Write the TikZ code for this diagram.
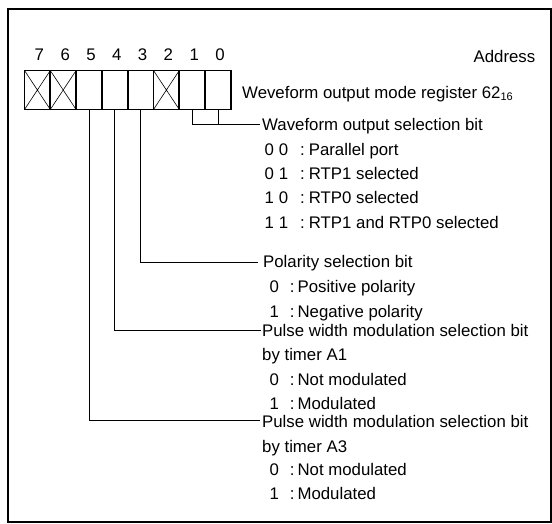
\documentclass[tikz,border=0pt]{standalone}
\usepackage{fontspec}
\setmainfont{Liberation Sans}
\usetikzlibrary{positioning,calc}
\newcommand{\twobit}[3]{\makebox[35.7pt][l]{#1\hspace{5pt}#2}:\hspace{4pt}#3}
\newcommand{\onebit}[2]{\makebox[20.4pt][l]{#1}:\hspace{3pt}#2}
\newcommand{\hexsub}[1]{\raisebox{-2.5pt}{\fontsize{11}{11}\selectfont #1}}

\begin{document}
\begin{tikzpicture}[x=1pt,y=-1pt,
  font=\fontsize{16.8}{20}\selectfont,
  cell/.style={rectangle, draw, line width=1.8pt, minimum width=25.8pt,
               minimum height=39pt, inner sep=0pt, outer sep=0pt},
  bitno/.style={anchor=base, inner sep=0pt},
  txt/.style={anchor=base west, inner sep=0pt},
  lead/.style={line width=0.8pt},
  xline/.style={line width=0.6pt},
]
\useasboundingbox (0,0) rectangle (552,523);
\draw[line width=2pt] (7.5,8.5) rectangle (551,521.5);

\foreach \b [count=\k from 0] in {7,6,5,4,3,2,1,0} {
  \node[cell] (b\b) at ({24.5+25.8*(\k+0.5)},90) {};
  \node[bitno] (n\b) at ([xshift=2pt,yshift=10.5pt]b\b.north) {\b};
}
\foreach \b in {7,6,2}
  \draw[xline] (b\b.north west) -- (b\b.south east) (b\b.south west) -- (b\b.north east);

\node[txt, anchor=base east] (addr) at (535.5,62) {Address};
\node[txt] (reg) at (242,98) {Weveform output mode register 62\hexsub{16}};

\node[txt] (wsel) at (262,130) {Waveform output selection bit};
\node[txt] (w00) at (264.3,155) {\twobit{0}{0}{Parallel port}};
\node[txt] (w01) at (264.3,179) {\twobit{0}{1}{RTP1 selected}};
\node[txt] (w10) at (264.3,203.5) {\twobit{1}{0}{RTP0 selected}};
\node[txt] (w11) at (264.3,228) {\twobit{1}{1}{RTP1 and RTP0 selected}};

\node[txt] (pol) at (263,267.5) {Polarity selection bit};
\node[txt] (pol0) at (269.3,292) {\onebit{0}{Positive polarity}};
\node[txt] (pol1) at (269.3,317) {\onebit{1}{Negative polarity}};

\node[txt] (pwa) at (262,336) {Pulse width modulation selection bit};
\node[txt] (pwab) at (262,360) {by timer A1};
\node[txt] (pwa0) at (269.3,385) {\onebit{0}{Not modulated}};
\node[txt] (pwa1) at (269.3,409) {\onebit{1}{Modulated}};

\node[txt] (pwc) at (262,427) {Pulse width modulation selection bit};
\node[txt] (pwcb) at (262,452) {by timer A3};
\node[txt] (pwc0) at (269.3,475.5) {\onebit{0}{Not modulated}};
\node[txt] (pwc1) at (269.3,499) {\onebit{1}{Modulated}};

\coordinate (wsel-in) at ([xshift=-2pt,yshift=2.5pt]wsel.mid west);
\coordinate (pol-in) at ([xshift=-5pt,yshift=2.5pt]pol.mid west);
\coordinate (pwa-in) at ([xshift=-1pt,yshift=2.5pt]pwa.mid west);
\coordinate (pwc-in) at ([xshift=-2pt,yshift=3.5pt]pwc.mid west);

\draw[lead] (b1.south) |- (wsel-in);
\draw[lead] (b0.south) -- (b0.south |- wsel-in);
\draw[lead] (b3.south) |- (pol-in);
\draw[lead] (b4.south) |- (pwa-in);
\draw[lead] (b5.south) |- (pwc-in);
\end{tikzpicture}
\end{document}
